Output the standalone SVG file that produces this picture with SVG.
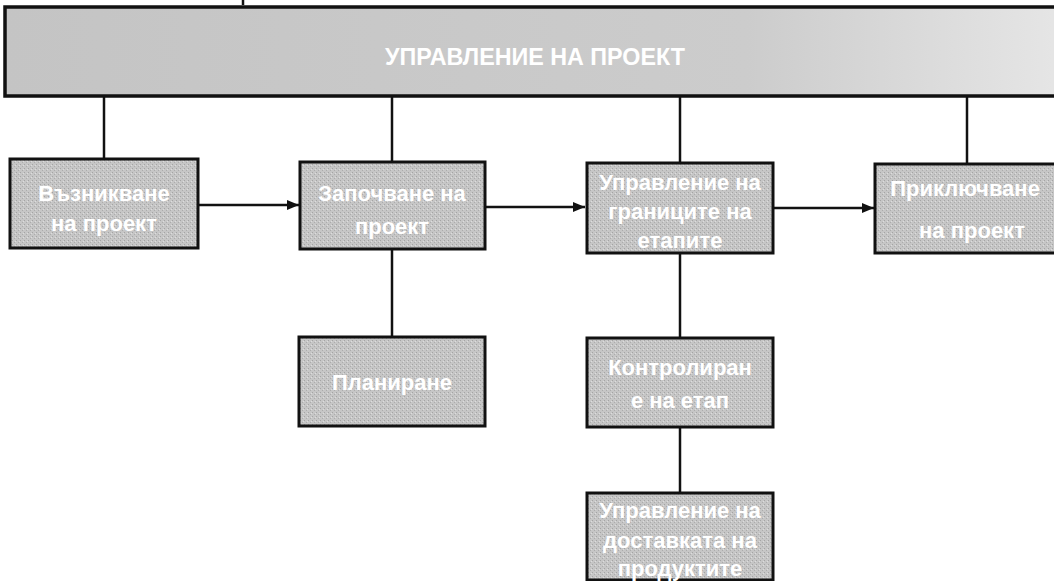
<svg xmlns="http://www.w3.org/2000/svg" width="1054" height="581" viewBox="0 0 1054 581">
<style>
.box{fill:url(#tex);stroke:#111;stroke-width:3}
.t{font-family:"Liberation Sans",Arial,sans-serif;font-weight:bold;font-size:22px;fill:#fff;text-anchor:middle}
.title{font-family:"Liberation Sans",Arial,sans-serif;font-weight:bold;font-size:24px;fill:#fff;text-anchor:middle}
.c{stroke:#111;stroke-width:2.5;fill:none}
</style>
<defs>
<pattern id="tex" width="4" height="4" patternUnits="userSpaceOnUse">
<rect width="4" height="4" fill="#c6c6c6"/>
<rect x="0" y="0" width="1" height="1" fill="#a4a4a4"/>
<rect x="2" y="2" width="1" height="1" fill="#acacac"/>
<rect x="3" y="1" width="1" height="1" fill="#dddddd"/>
</pattern>
<linearGradient id="topg" x1="0" y1="0" x2="1" y2="0">
<stop offset="0" stop-color="#c4c4c4"/>
<stop offset="0.7" stop-color="#cccccc"/>
<stop offset="1" stop-color="#e6e6e6"/>
</linearGradient>
<marker id="arr" markerWidth="12" markerHeight="10" refX="12" refY="5" orient="auto" markerUnits="userSpaceOnUse">
<path d="M0,0 L12,5 L0,10 z" fill="#111"/>
</marker>
</defs>
<rect width="1054" height="581" fill="#fff"/>
<g id="connectors">
<line class="c" x1="243" y1="0" x2="243" y2="5"/>
<line class="c" x1="104" y1="96" x2="104" y2="159"/>
<line class="c" x1="392" y1="96" x2="392" y2="162"/>
<line class="c" x1="680" y1="96" x2="680" y2="163"/>
<line class="c" x1="967" y1="96" x2="967" y2="164"/>
<line class="c" x1="198" y1="205" x2="299" y2="205" marker-end="url(#arr)"/>
<line class="c" x1="486" y1="207" x2="585" y2="207" marker-end="url(#arr)"/>
<line class="c" x1="774" y1="208" x2="874" y2="208" marker-end="url(#arr)"/>
<line class="c" x1="392" y1="249" x2="392" y2="337"/>
<line class="c" x1="680" y1="253" x2="680" y2="338"/>
<line class="c" x1="680" y1="427" x2="680" y2="493"/>
</g>
<g id="top">
<rect x="5" y="7" width="1060" height="89" fill="url(#topg)" stroke="#111" stroke-width="3.5"/>
<text class="title" x="535" y="65" textLength="300" lengthAdjust="spacingAndGlyphs">УПРАВЛЕНИЕ НА ПРОЕКТ</text>
</g>
<g id="n1">
<rect class="box" x="10" y="159" width="188" height="89"/>
<text class="t" x="104" y="201">Възникване</text>
<text class="t" x="104" y="231">на проект</text>
</g>
<g id="n2">
<rect class="box" x="300" y="162" width="185" height="87"/>
<text class="t" x="392" y="201">Започване на</text>
<text class="t" x="392" y="234">проект</text>
</g>
<g id="n3">
<rect class="box" x="587" y="163" width="186" height="90"/>
<text class="t" x="680" y="190">Управление на</text>
<text class="t" x="680" y="219">границите на</text>
<text class="t" x="680" y="248">етапите</text>
</g>
<g id="n4">
<rect class="box" x="875" y="164" width="190" height="89"/>
<text class="t" x="965" y="196">Приключване</text>
<text class="t" x="972" y="238">на проект</text>
</g>
<g id="n5">
<rect class="box" x="299" y="337" width="186" height="89"/>
<text class="t" x="392" y="390">Планиране</text>
</g>
<g id="n6">
<rect class="box" x="587" y="338" width="186" height="89"/>
<text class="t" x="680" y="375">Контролиран</text>
<text class="t" x="680" y="408">е на етап</text>
</g>
<g id="n7">
<rect class="box" x="587" y="493" width="186" height="87"/>
<text class="t" x="680" y="518">Управление на</text>
<text class="t" x="680" y="548">доставката на</text>
<text class="t" x="680" y="576">продуктите</text>
</g>
</svg>
